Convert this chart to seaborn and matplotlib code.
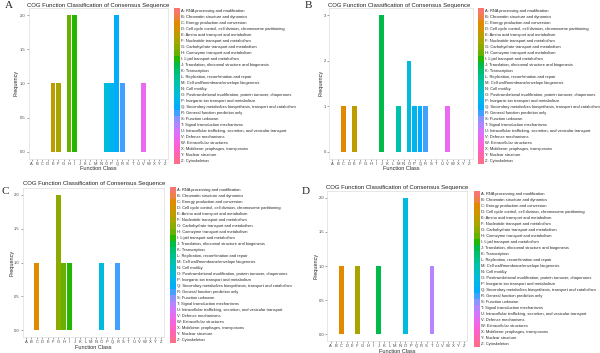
import numpy as np
import pandas as pd
import seaborn as sns
import matplotlib
matplotlib.use("Agg")
import matplotlib.pyplot as plt
from matplotlib.patches import Patch

letters = list("ABCDEFGHIJKLMNOPQRSTUVWXYZ")
cog_names = [
    "RNA processing and modification",
    "Chromatin structure and dynamics",
    "Energy production and conversion",
    "Cell cycle control, cell division, chromosome partitioning",
    "Amino acid transport and metabolism",
    "Nucleotide transport and metabolism",
    "Carbohydrate transport and metabolism",
    "Coenzyme transport and metabolism",
    "Lipid transport and metabolism",
    "Translation, ribosomal structure and biogenesis",
    "Transcription",
    "Replication, recombination and repair",
    "Cell wall/membrane/envelope biogenesis",
    "Cell motility",
    "Posttranslational modification, protein turnover, chaperones",
    "Inorganic ion transport and metabolism",
    "Secondary metabolites biosynthesis, transport and catabolism",
    "General function prediction only",
    "Function unknown",
    "Signal transduction mechanisms",
    "Intracellular trafficking, secretion, and vesicular transport",
    "Defense mechanisms",
    "Extracellular structures",
    "Mobilome: prophages, transposons",
    "Nuclear structure",
    "Cytoskeleton",
]

# panel data (class, frequency)
a_class = ["E", "F", "H", "I", "O", "P", "Q", "R", "V"]
a_freq = [1, 1, 2, 2, 1, 1, 2, 1, 1]
b_class = ["C", "E", "J", "M", "O", "P", "Q", "R", "V"]
b_freq = [1, 1, 3, 1, 2, 1, 1, 1, 1]
c_class = ["C", "G", "H", "I", "O", "R"]
c_freq = [1, 2, 1, 1, 1, 1]
d_class = ["C", "F", "J", "O", "T"]
d_freq = [1, 1, 1, 2, 1]


def hue_pal(n, l=65, c=100):
    # ggplot2 default hue palette (polar Luv -> sRGB)
    h = np.deg2rad(np.linspace(15, 375, n + 1)[:n])
    u, v = c * np.cos(h), c * np.sin(h)
    Xn, Yn, Zn = 95.047, 100.0, 108.883
    un = 4 * Xn / (Xn + 15 * Yn + 3 * Zn)
    vn = 9 * Yn / (Xn + 15 * Yn + 3 * Zn)
    Y = Yn * ((l + 16) / 116) ** 3
    up = u / (13 * l) + un
    vp = v / (13 * l) + vn
    X = 9 * Y * up / (4 * vp)
    Z = -X / 3 - 5 * Y + 3 * Y / vp
    M = np.array([[3.2404542, -1.5371385, -0.4985314],
                  [-0.9692660, 1.8760108, 0.0415560],
                  [0.0556434, -0.2040259, 1.0572252]])
    rgb = (M @ np.vstack([X, np.full(n, Y), Z]) / 100).T
    rgb = np.where(rgb > 0.0031308, 1.055 * np.clip(rgb, 0, None) ** (1 / 2.4) - 0.055, 12.92 * rgb)
    return [tuple(x) for x in np.clip(rgb, 0, 1)]


pal = dict(zip(letters, hue_pal(26)))

sns.set_theme(style="white")
plt.rcParams['font.family'] = ['Liberation Sans', 'DejaVu Sans']

W, H = 600, 353
fig = plt.figure(figsize=(6, 3.53), dpi=100)


def px_axes(x0, x1, y0, y1):
    return fig.add_axes([x0 / W, 1 - y1 / H, (x1 - x0) / W, (y1 - y0) / H])


# tag, classes, freqs, axes box, tag pos, title pos, legend pos, ymax, ylabel offset
panels = [
    ("A", a_class, a_freq, (28.5, 168, 8.2, 158.5), (9, 6), (27, 5), (174, 8), 2, 12.5),
    ("B", b_class, b_freq, (329, 472.6, 8.2, 158.5), (308, 5), (328, 5), (478, 8), 3, 8.5),
    ("C", c_class, c_freq, (22.8, 164, 188.2, 337), (5, 191), (23, 183), (170, 187), 2, 11),
    ("D", d_class, d_freq, (327.5, 467.2, 190.8, 341.2), (306, 191), (326, 188), (474, 191), 2, 11.5),
]

handles = [Patch(facecolor=pal[k], edgecolor='none') for k in letters]
labels = [f"{k}: {n}" for k, n in zip(letters, cog_names)]

for tag, cls, freq, box, tagpos, titlepos, legpos, ymax, yoff in panels:
    ax = px_axes(*box)
    df = pd.DataFrame({"cls": cls, "freq": freq})
    sns.barplot(data=df, x="cls", y="freq", order=letters, hue="cls", palette=pal,
                legend=False, width=0.9, dodge=False, ax=ax, saturation=1,
                linewidth=0)
    ax.set_xlim(-0.6, 25.6)
    ax.set_ylim(-0.05 * ymax, 1.05 * ymax)
    if ymax == 3:
        ax.set_yticks([0, 1, 2, 3])
        ax.set_yticklabels(["0", "1", "2", "3"])
    else:
        ax.set_yticks([0, 0.5, 1, 1.5, 2])
        ax.set_yticklabels(["0.0", "0.5", "1.0", "1.5", "2.0"])
    ax.tick_params(labelsize=3, length=1.2, width=0.4, color='#555555',
                   pad=1, labelcolor='#444444', bottom=True, left=True)
    for s in ax.spines.values():
        s.set_color('#dddddd')
        s.set_linewidth(0.5)
    ax.set_xlabel("Function Class", fontsize=4, labelpad=0.5)
    ax.set_ylabel("Frequency", fontsize=4, va='center')
    ax.yaxis.set_label_coords(-yoff / (box[1] - box[0]), 0.5)
    fig.text(tagpos[0] / W, 1 - tagpos[1] / H, tag, family='Liberation Serif',
             fontsize=8, ha='center', va='center')
    fig.text(titlepos[0] / W, 1 - titlepos[1] / H,
             "COG Function Classification of Consensus Sequence",
             fontsize=4.3, ha='left', va='center', color='#222222')
    ax.legend(handles, labels, loc='upper left',
              bbox_to_anchor=(legpos[0] / W, 1 - legpos[1] / H),
              bbox_transform=fig.transFigure, frameon=False, fontsize=2.9,
              handlelength=1.49, handleheight=1.915, labelspacing=0,
              handletextpad=0.3, borderpad=0, borderaxespad=0)

fig.savefig("out.png", dpi=100, facecolor='white')
